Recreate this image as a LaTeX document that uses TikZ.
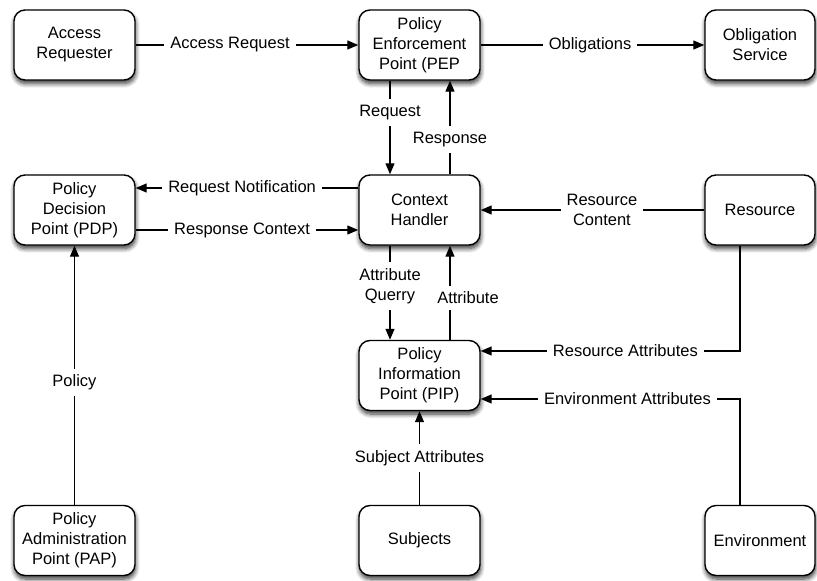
\documentclass[tikz,border=0pt]{standalone}
\usepackage{fontspec}
\setmainfont{Liberation Sans}
\usetikzlibrary{arrows.meta,shadows.blur}
\begin{document}
\begin{tikzpicture}[x=1pt,y=-1pt,
  every node/.style={font=\fontsize{16.5}{20}\selectfont},
  box/.style={draw=black, line width=1.4pt, rounded corners=11pt, fill=white,
    minimum height=70pt, align=center, inner sep=2pt,
    blur shadow={shadow xshift=0.5pt, shadow yshift=-3.5pt, shadow blur radius=4.5pt, shadow blur steps=8, shadow opacity=80}},
  widebox/.style={box, minimum width=121pt},
  sidebox/.style={box, minimum width=110pt},
  arr/.style={line width=1.3pt, -{Triangle[length=11pt,width=9pt]}},
  lbl/.style={fill=white, inner sep=6pt, align=center}]
\useasboundingbox (0,0) rectangle (817,581);

% components
\node[widebox] (ar)  at (74.5,45)  {Access\\Requester};
\node[widebox] (pep) at (419.5,45) {Policy\\Enforcement\\Point (PEP};
\node[sidebox] (os)  at (760,45)   {Obligation\\Service};
\node[widebox] (pdp) at (74.5,210) {Policy\\Decision\\Point (PDP)};
\node[widebox] (ch)  at (419.5,210) {Context\\Handler};
\node[sidebox] (res) at (760,210)  {Resource};
\node[widebox] (pip) at (419.5,375.5) {Policy\\Information\\Point (PIP)};
\node[widebox] (pap) at (74.5,540.5) {Policy\\Administration\\Point (PAP)};
\node[widebox] (sub) at (419.5,540.5) {Subjects};
\node[sidebox] (env) at (760,540.5) {Environment};

% message flows
\draw[arr] (ar.east) -- node[lbl, pos=0.424] {Access Request} (pep.west);
\draw[arr] (pep.east) -- node[lbl, pos=0.489] {Obligations} (os.west);
\draw[arr] ([xshift=-29.5pt]pep.south) -- node[lbl, pos=0.337] {Request} ([xshift=-29.5pt]ch.north);
\draw[arr] ([xshift=30.5pt]ch.north) -- node[lbl, pos=0.37] {Response} ([xshift=30.5pt]pep.south);
\draw[arr] ([yshift=22pt]ch.west) -- node[lbl, pos=0.522] {Request Notification} ([yshift=22pt]pdp.east);
\draw[arr] ([yshift=-20pt]pdp.east) -- node[lbl, pos=0.478] {Response Context} ([yshift=-20pt]ch.west);
\draw[arr] (res.west) -- node[lbl, pos=0.458] {Resource\\Content} (ch.east);
\draw[arr] ([xshift=-29.5pt]ch.south) -- node[lbl, pos=0.43] {Attribute\\Querry} ([xshift=-29.5pt]pip.north);
\draw[arr] ([xshift=30.5pt]pip.north) -- ([xshift=30.5pt]ch.south);
\node[lbl] (attr) at (468,298) {Attribute};
\draw[arr] ([xshift=-20pt]res.south) |- node[lbl, pos=0.721] {Resource Attributes} ([yshift=24.5pt]pip.east);
\draw[arr] ([xshift=-20pt]env.north) |- node[lbl, pos=0.717] {Environment Attributes} ([yshift=-23.5pt]pip.east);
\draw[arr] (sub.north) -- node[lbl, pos=0.5] {Subject Attributes} (pip.south);
\draw[arr] (pap.north) -- node[lbl, pos=0.473] {Policy} (pdp.south);
\end{tikzpicture}
\end{document}
